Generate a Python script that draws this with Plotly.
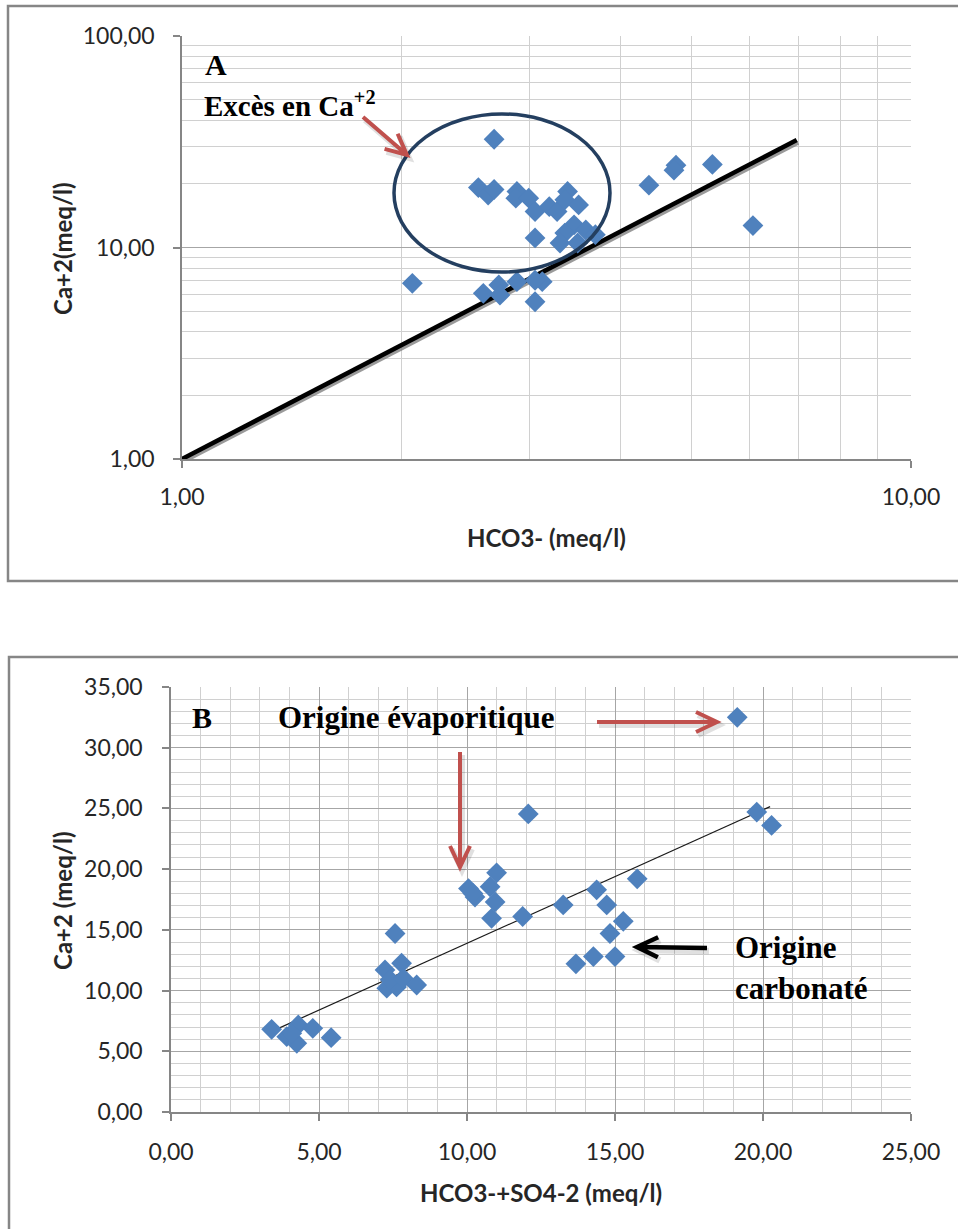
import math
import plotly.graph_objects as go

W, H = 958, 1229

# ---- Panel A : Ca2+ vs HCO3- (log-log) ----
hco3_a = [2.68, 2.55, 2.63, 2.68, 2.88, 2.87, 2.99, 3.05, 3.19, 3.27, 3.38, 3.35,
          3.50, 3.05, 3.45, 3.35, 3.58, 3.69, 3.30, 3.49, 4.37, 4.76, 4.73, 5.34,
          6.07, 2.07, 2.59, 2.72, 2.73, 2.88, 3.12, 3.05, 3.05]
ca_a = [32.5, 19.2, 17.7, 18.8, 18.4, 17.1, 17.1, 14.8, 15.6, 14.8, 18.4, 16.8,
        15.9, 11.1, 12.8, 11.7, 12.1, 11.5, 10.5, 10.5, 19.7, 24.5, 23.2, 24.7,
        12.7, 6.77, 6.07, 6.65, 5.96, 6.89, 6.89, 5.54, 7.0]
ref_line_x = [1.0, 6.97]
ref_line_y = [1.0, 32.2]

# ---- Panel B : Ca2+ vs HCO3- + SO4 2- ----
anions_b = [19.13, 12.07, 19.79, 20.29, 10.05, 10.27, 11.00, 10.78, 10.95, 10.83,
            11.88, 13.25, 14.38, 14.72, 15.75, 15.28, 14.83, 15.00, 14.27, 13.68,
            7.57, 3.40, 3.91, 4.25, 4.30, 4.08, 4.79, 5.41, 7.23, 7.29, 7.79, 7.62,
            7.40, 7.85, 8.30, 10.20]
ca_b = [32.5, 24.55, 24.7, 23.6, 18.4, 17.7, 19.7, 18.55, 17.3, 15.95,
        16.1, 17.05, 18.3, 17.05, 19.2, 15.7, 14.7, 12.8, 12.8, 12.2,
        14.7, 6.81, 6.2, 5.66, 7.17, 6.48, 6.89, 6.12, 11.7, 10.2, 12.25, 10.3,
        10.9, 11.0, 10.46, 18.0]
trend_x = [3.46, 20.24]
trend_y = [6.7, 25.15]

# tick labels (French decimal comma)
a_xticks = [1, 10]
a_xlabels = ["1,00", "10,00"]
a_yticks = [1, 10, 100]
a_ylabels = ["1,00", "10,00", "100,00"]
b_xticks = [0, 5, 10, 15, 20, 25]
b_xlabels = ["0,00", "5,00", "10,00", "15,00", "20,00", "25,00"]
b_yticks = [0, 5, 10, 15, 20, 25, 30, 35]
b_ylabels = ["0,00", "5,00", "10,00", "15,00", "20,00", "25,00", "30,00", "35,00"]

BLUE = "#4F81BD"
RED = "#C0504D"
NAVY = "#243F60"
AXIS = "#868686"
MAJOR = "#a6a6a6"
MINOR = "#d0d0d0"
TICKFONT = dict(family="Lato", size=23, color="#262626")
TITLEFONT = dict(family="Lato", size=24, color="#262626")


def X(px):
    return px / W


def Y(py):
    return 1 - py / H


fig = go.Figure()

# reference line in A with a soft shadow beneath it
sx = 10 ** (1.2 / 728)
sy = 10 ** (-2.2 / 211.5)
fig.add_trace(go.Scatter(x=[v * sx for v in ref_line_x], y=[v * sy for v in ref_line_y],
                         mode="lines", line=dict(color="rgba(120,120,120,0.75)", width=5),
                         xaxis="x", yaxis="y", hoverinfo="skip", showlegend=False))
fig.add_trace(go.Scatter(x=ref_line_x, y=ref_line_y, mode="lines",
                         line=dict(color="black", width=4.5),
                         xaxis="x", yaxis="y", showlegend=False))
fig.add_trace(go.Scatter(x=hco3_a, y=ca_a, mode="markers",
                         marker=dict(symbol="diamond", size=16, color=BLUE, line=dict(width=0)),
                         xaxis="x", yaxis="y", showlegend=False))

fig.add_trace(go.Scatter(x=trend_x, y=trend_y, mode="lines",
                         line=dict(color="#1a1a1a", width=1.2),
                         xaxis="x2", yaxis="y2", showlegend=False))
fig.add_trace(go.Scatter(x=anions_b, y=ca_b, mode="markers",
                         marker=dict(symbol="diamond", size=16, color=BLUE, line=dict(width=0)),
                         xaxis="x2", yaxis="y2", showlegend=False))

common = dict(showline=True, linecolor=AXIS, linewidth=1.5, ticks="outside", ticklen=7,
              tickcolor=AXIS, tickwidth=1.5, showgrid=True, gridcolor=MAJOR, gridwidth=1.2,
              zeroline=False, tickfont=TICKFONT, automargin=False)

minor_a = [m * d for d in (1, 10) for m in range(2, 10)]

fig.update_layout(
    width=W, height=H, margin=dict(l=0, r=0, t=0, b=0, autoexpand=False),
    paper_bgcolor="white", plot_bgcolor="white", showlegend=False,
    xaxis=dict(type="log", range=[0, 1], domain=[X(182), X(911)], anchor="y",
               tickvals=a_xticks, ticktext=a_xlabels, ticklabelstandoff=10,
               minor=dict(tickvals=minor_a, showgrid=True, gridcolor=MINOR, ticks=""),
               **common),
    yaxis=dict(type="log", range=[0, 2], domain=[Y(459), Y(36)], anchor="x",
               tickvals=a_yticks, ticktext=a_ylabels, ticklabelstandoff=14,
               minor=dict(tickvals=minor_a, showgrid=True, gridcolor=MINOR, ticks=""),
               **common),
    xaxis2=dict(range=[0, 25], domain=[X(171), X(911)], anchor="y2",
                tickvals=b_xticks, ticktext=b_xlabels, ticklabelstandoff=12,
                minor=dict(dtick=1, showgrid=True, gridcolor=MINOR, ticks=""),
                **common),
    yaxis2=dict(range=[0, 35], domain=[Y(1112), Y(687)], anchor="x2",
                tickvals=b_yticks, ticktext=b_ylabels, ticklabelstandoff=15,
                minor=dict(dtick=1, showgrid=True, gridcolor=MINOR, ticks=""),
                **common),
)

shapes = []
# chart frames
shapes.append(dict(type="rect", xref="paper", yref="paper", x0=X(8), x1=1.05,
                   y0=Y(581), y1=Y(6), line=dict(color=AXIS, width=2.5), layer="below"))
shapes.append(dict(type="rect", xref="paper", yref="paper", x0=X(9), x1=1.05,
                   y0=-0.05, y1=Y(657), line=dict(color=AXIS, width=2.5), layer="below"))
# ellipse around the calcium excess group
shapes.append(dict(type="circle", xref="paper", yref="paper",
                   x0=X(394), x1=X(610), y0=Y(272), y1=Y(114),
                   line=dict(color=NAVY, width=3.5)))


def arrow(x0, y0, x1, y1, color, width, head=21, spread=10):
    dx, dy = x1 - x0, y1 - y0
    n = math.hypot(dx, dy)
    ux, uy = dx / n, dy / n
    px, py = -uy, ux
    bx, by = x1 - ux * head, y1 - uy * head
    a1 = (bx + px * spread, by + py * spread)
    a2 = (bx - px * spread, by - py * spread)
    pts = lambda p: f"{X(p[0]):.5f},{Y(p[1]):.5f}"
    path = (f"M{pts((x0, y0))} L{pts((x1, y1))} "
            f"M{pts(a1)} L{pts((x1, y1))} L{pts(a2)}")
    out = []
    # faint drop shadow
    spath = (f"M{pts((x0 + 2, y0 + 3))} L{pts((x1 + 2, y1 + 3))} "
             f"M{pts((a1[0] + 2, a1[1] + 3))} L{pts((x1 + 2, y1 + 3))} L{pts((a2[0] + 2, a2[1] + 3))}")
    out.append(dict(type="path", xref="paper", yref="paper", path=spath,
                    line=dict(color="rgba(0,0,0,0.12)", width=width + 2)))
    out.append(dict(type="path", xref="paper", yref="paper", path=path,
                    line=dict(color=color, width=width)))
    return out


shapes += arrow(363, 117, 407, 155, RED, 4)
shapes += arrow(597, 722, 717, 722, RED, 4)
shapes += arrow(460, 752, 460, 867, RED, 4)
shapes += arrow(707, 948, 637, 947, "black", 4.5)
fig.update_layout(shapes=shapes)

SERIF = "Liberation Serif"
annotations = [
    dict(text="<b>A</b>", x=X(203), y=Y(64), font=dict(family=SERIF, size=30, color="black")),
    dict(text="<b>Excès en Ca<sup>+2</sup></b>", x=X(202), y=Y(104),
         font=dict(family=SERIF, size=29, color="black")),
    dict(text="<b>B</b>", x=X(190), y=Y(717), font=dict(family=SERIF, size=30, color="black")),
    dict(text="<b>Origine évaporitique</b>", x=X(276), y=Y(717),
         font=dict(family=SERIF, size=31, color="black")),
    dict(text="<b>Origine</b>", x=X(733), y=Y(947), font=dict(family=SERIF, size=31, color="black")),
    dict(text="<b>carbonaté</b>", x=X(733), y=Y(988), font=dict(family=SERIF, size=31, color="black")),
    # axis titles
    dict(text="<b>HCO3- (meq/l)</b>", x=X(546), y=Y(537), xanchor="center", font=TITLEFONT),
    dict(text="<b>Ca+2(meq/l)</b>", x=X(62), y=Y(248), xanchor="center", textangle=-90,
         font=TITLEFONT),
    dict(text="<b>HCO3-+SO4-2 (meq/l)</b>", x=X(541), y=Y(1192), xanchor="center",
         font=TITLEFONT),
    dict(text="<b>Ca+2 (meq/l)</b>", x=X(62), y=Y(900), xanchor="center", textangle=-90,
         font=TITLEFONT),
]
for a in annotations:
    a.setdefault("xanchor", "left")
    a.update(xref="paper", yref="paper", yanchor="middle", showarrow=False)
fig.update_layout(annotations=annotations)

fig.write_html("out.html")
